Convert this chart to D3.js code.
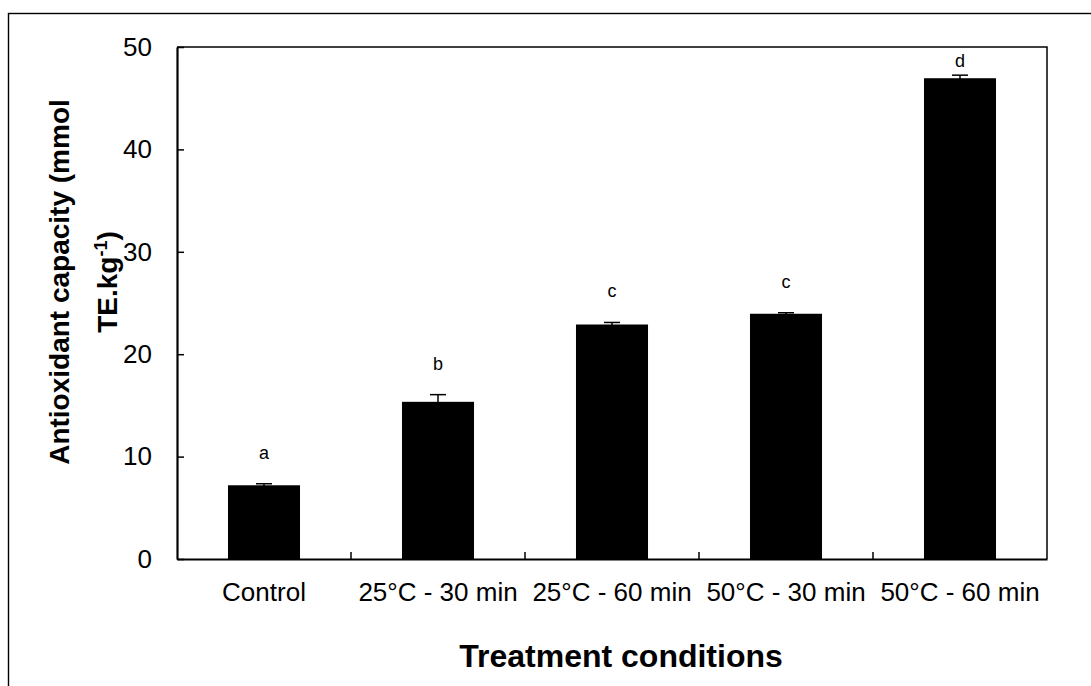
<!DOCTYPE html>
<html lang="en">
<head>
    <meta charset="UTF-8">
    <title>Antioxidant capacity</title>
    <script src="https://cdnjs.cloudflare.com/ajax/libs/d3/7.9.0/d3.min.js"></script>
    <style>
        body { margin: 0; background: #fff; }
        svg { display: block; font-family: "Liberation Sans", Arial, sans-serif; }
    </style>
</head>
<body>
<div id="chart"></div>
<script>
    // data
    const treatments = ['Control', '25°C - 30 min', '25°C - 60 min', '50°C - 30 min', '50°C - 60 min'];
    const capacity = [7.2, 15.35, 22.9, 23.95, 46.95];
    const errors = [0.15, 0.7, 0.2, 0.1, 0.3];
    const letters = ['a', 'b', 'c', 'c', 'd'];
    const yTicks = [0, 10, 20, 30, 40, 50];

    const W = 1091, H = 686;
    const margin = { top: 47, right: 44, bottom: 127, left: 177 };
    const width = W - margin.left - margin.right;
    const height = H - margin.top - margin.bottom;

    const svg = d3.select('#chart')
        .append('svg')
        .attr('width', W)
        .attr('height', H);

    // outer frame (runs off the right and bottom of the picture)
    svg.append('rect')
        .attr('x', 8.5).attr('y', 13.5)
        .attr('width', 1100).attr('height', 700)
        .attr('fill', 'none')
        .attr('stroke', '#000')
        .attr('stroke-width', 1.4);

    const g = svg.append('g')
        .attr('transform', `translate(${margin.left},${margin.top})`);

    const x = d3.scaleBand()
        .domain(treatments)
        .range([0, width])
        .padding(0);

    const y = d3.scaleLinear()
        .domain([0, 50])
        .range([height, 0]);

    const barW = x.bandwidth() * 0.414;

    // top and right border of the plot
    g.append('path')
        .attr('d', `M0,0H${width}V${height}`)
        .attr('fill', 'none')
        .attr('stroke', '#000')
        .attr('stroke-width', 1.5);

    // bars
    g.selectAll('.bar')
        .data(treatments)
        .enter().append('rect')
        .attr('class', 'bar')
        .attr('x', d => x(d) + (x.bandwidth() - barW) / 2)
        .attr('y', (d, i) => y(capacity[i]))
        .attr('width', barW)
        .attr('height', (d, i) => height - y(capacity[i]))
        .attr('fill', '#000');

    // error bars
    const err = g.selectAll('.err')
        .data(treatments)
        .enter().append('g')
        .attr('class', 'err')
        .attr('stroke', '#000')
        .attr('stroke-width', 1.5);

    err.append('line')
        .attr('x1', d => x(d) + x.bandwidth() / 2)
        .attr('x2', d => x(d) + x.bandwidth() / 2)
        .attr('y1', (d, i) => y(capacity[i] - errors[i]))
        .attr('y2', (d, i) => y(capacity[i] + errors[i]));

    err.append('line')
        .attr('x1', d => x(d) + x.bandwidth() / 2 - 8)
        .attr('x2', d => x(d) + x.bandwidth() / 2 + 8)
        .attr('y1', (d, i) => y(capacity[i] + errors[i]))
        .attr('y2', (d, i) => y(capacity[i] + errors[i]));

    // significance letters
    g.selectAll('.letter')
        .data(treatments)
        .enter().append('text')
        .attr('class', 'letter')
        .attr('x', d => x(d) + x.bandwidth() / 2)
        .attr('y', (d, i) => Math.max(y(capacity[i] + errors[i]) - 25, 20))
        .attr('text-anchor', 'middle')
        .style('font-size', '18px')
        .text((d, i) => letters[i]);

    // y axis
    const yAxis = g.append('g')
        .call(d3.axisLeft(y).tickValues(yTicks).tickSize(-7).tickPadding(25).tickSizeOuter(0));
    yAxis.select('.domain').attr('stroke-width', 2.2);
    yAxis.selectAll('.tick line').attr('stroke-width', 1.5);
    yAxis.selectAll('.tick text')
        .style('font-size', '26px')
        .attr('fill', '#000')
        .style('font-family', '"Liberation Sans", Arial, sans-serif');

    // x axis, ticks between categories
    const xAxis = g.append('g')
        .attr('transform', `translate(0,${height})`)
        .call(d3.axisBottom(x).tickSize(0).tickPadding(24).tickSizeOuter(0));
    xAxis.select('.domain').attr('stroke-width', 2.2);
    xAxis.selectAll('.tick text')
        .style('font-size', '26px')
        .attr('fill', '#000')
        .style('font-family', '"Liberation Sans", Arial, sans-serif');

    g.append('g')
        .selectAll('line')
        .data(treatments.slice(1))
        .enter().append('line')
        .attr('x1', d => x(d)).attr('x2', d => x(d))
        .attr('y1', height).attr('y2', height - 7)
        .attr('stroke', '#000')
        .attr('stroke-width', 1.5);

    // axis titles
    svg.append('text')
        .attr('x', margin.left + width / 2 + 9)
        .attr('y', 667)
        .attr('text-anchor', 'middle')
        .style('font-size', '32px')
        .style('font-weight', 'bold')
        .text('Treatment conditions');

    const yTitle = svg.append('text')
        .attr('transform', 'translate(69,282) rotate(-90)')
        .attr('text-anchor', 'middle')
        .style('font-size', '28px')
        .style('font-weight', 'bold');

    yTitle.append('tspan')
        .attr('x', 0).attr('y', 0)
        .text('Antioxidant capacity (mmol');

    const line2 = yTitle.append('tspan')
        .attr('x', 0).attr('dy', '1.7em');
    line2.append('tspan').text('TE.kg');
    line2.append('tspan').attr('dy', -10).style('font-size', '18px').text('-1');
    line2.append('tspan').attr('dy', 10).text(')');
</script>
</body>
</html>
